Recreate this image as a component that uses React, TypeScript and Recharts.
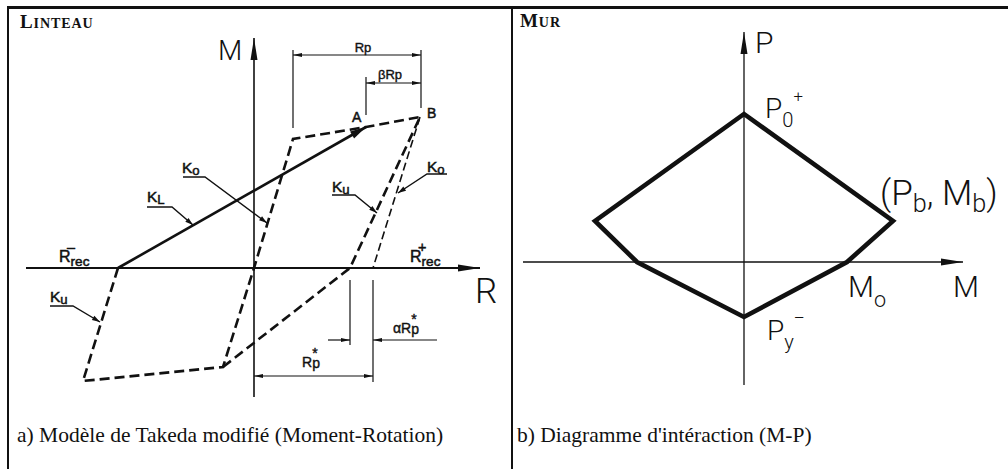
import React from "react";
import { ComposedChart, Line, Scatter, XAxis, YAxis } from "recharts";

type Pt = [number, number];

// ---- a) Takeda model: R (rotation) along x, M (moment) along y, origin at the axes crossing
const rAxisA: Pt[] = [[-228, 0], [226, 0]];
const mAxisA: Pt[] = [[0, -129], [0, 230]];
// K_L: from R_rec- up to point A
const kLineA: Pt[] = [[-136, 0], [112, 141]];
// hysteresis loop (dashed)
const loopMain: Pt[] = [[-136, 0], [-171, -113], [-31, -99], [0, 0], [39, 129], [112, 141], [166, 151]];
const loopUnload: Pt[] = [[-31, -99], [96, 0], [166, 151]];
const koBranch: Pt[] = [[166, 151], [119, 0]];

// dimension lines (Rp, βRp, αRp*, Rp*)
const dimLinesA: Pt[][] = [
  [[39, 218], [39, 140]],
  [[167, 218], [167, 160]],
  [[39, 213], [167, 213]],
  [[112, 191], [112, 153]],
  [[112, 185], [167, 185]],
  [[96, -12], [96, -77]],
  [[119, -12], [119, -114]],
  [[74, -72], [96, -72]],
  [[183, -72], [119, -72]],
  [[0, -108], [119, -108]],
];

// leaders under the stiffness labels
const leadersA: Pt[][] = [
  [[-71, 91], [-49, 91], [13, 45]],
  [[-107, 61], [-82, 61], [-61, 43]],
  [[78, 73], [101, 73], [123, 55]],
  [[193, 94], [173, 94], [144, 75]],
  [[-204, -38], [-181, -38], [-154, -54]],
];

// arrow heads: tip (x, y), direction taken from (fx, fy)
const arrowsA = [
  { x: 0, y: 230, fx: 0, fy: 200, k: "axis" },
  { x: 226, y: 0, fx: 200, fy: 0, k: "axis" },
  { x: 112, y: 141, fx: -136, fy: 0, k: "kl" },
  { x: 39, y: 213, fx: 167, fy: 213, k: "dim" },
  { x: 167, y: 213, fx: 39, fy: 213, k: "dim" },
  { x: 112, y: 185, fx: 167, fy: 185, k: "dim" },
  { x: 167, y: 185, fx: 112, fy: 185, k: "dim" },
  { x: 96, y: -72, fx: 74, fy: -72, k: "dim" },
  { x: 119, y: -72, fx: 183, fy: -72, k: "dim" },
  { x: 0, y: -108, fx: 119, fy: -108, k: "dim" },
  { x: 119, y: -108, fx: 0, fy: -108, k: "dim" },
  { x: 13, y: 45, fx: -49, fy: 91, k: "lead" },
  { x: -61, y: 43, fx: -82, fy: 61, k: "lead" },
  { x: 123, y: 55, fx: 101, fy: 73, k: "lead" },
  { x: 144, y: 75, fx: 173, fy: 94, k: "lead" },
  { x: -154, y: -54, fx: -181, fy: -38, k: "lead" },
];

const labelsA = [
  { x: -234, y: 240, kind: "title", parts: [["L", ""], ["inteau", "sc"]] },
  { x: -36, y: 208, kind: "cadS", parts: [["M", ""]] },
  { x: 221, y: -35, kind: "cadL", parts: [["R", ""]] },
  { x: 109, y: 216, kind: "dimS", anchor: "middle", parts: [["Rp", ""]] },
  { x: 124, y: 189, kind: "dimS", parts: [["βRp", ""]] },
  { x: 98, y: 146, kind: "pt", parts: [["A", ""]] },
  { x: 173, y: 150, kind: "pt", parts: [["B", ""]] },
  { x: -72, y: 95, kind: "lab", parts: [["K", ""], ["o", "sub"]] },
  { x: -107, y: 66, kind: "lab", parts: [["K", ""], ["L", "sub"]] },
  { x: 78, y: 76, kind: "lab", parts: [["K", ""], ["u", "sub"]] },
  { x: 173, y: 96, kind: "lab", parts: [["K", ""], ["o", "sub"]] },
  { x: -204, y: -34, kind: "lab", parts: [["K", ""], ["u", "sub"]] },
  { x: -195, y: 6, kind: "rec", parts: [["R", ""], ["rec", "sub"], ["–", "over"]] },
  { x: 156, y: 6, kind: "rec", parts: [["R", ""], ["rec", "sub"], ["+", "over"]] },
  { x: 139, y: -65, kind: "dimL", parts: [["αR", ""], ["p", "sub"], ["*", "over"]] },
  { x: 48, y: -99, kind: "dimL", parts: [["R", ""], ["p", "sub"], ["*", "over"]] },
  { x: -237, y: -174, kind: "cap", parts: [["a) Modèle de Takeda modifié (Moment-Rotation)", ""]] },
];

// ---- b) M-P interaction diagram, origin at the axes crossing
const mAxisB: Pt[] = [[-221, 0], [219, 0]];
const pAxisB: Pt[] = [[0, -123], [0, 230]];
// P0+ -> (Pb, Mb) -> M0 -> Py- -> -M0 -> -(Pb, Mb) -> P0+
const envelope: Pt[] = [[0, 148], [149, 41], [103, 0], [0, -55], [-107, 0], [-149, 41], [0, 148], [149, 41]];

const arrowsB = [
  { x: 0, y: 230, fx: 0, fy: 200, k: "axis" },
  { x: 219, y: 0, fx: 190, fy: 0, k: "axis" },
];

const labelsB = [
  { x: -224, y: 235, kind: "title", parts: [["M", ""], ["ur", "sc"]] },
  { x: 11, y: 209, kind: "cadM", parts: [["P", ""]] },
  { x: 21, y: 144, kind: "cadS", parts: [["P", ""], ["0", "sub"], ["+", "sup"]] },
  { x: 136, y: 57, kind: "cadL", parts: [["(P", ""], ["b", "sub"], [", M", ""], ["b", "sub"], [")", ""]] },
  { x: 104, y: -35, kind: "cadM", parts: [["M", ""], ["o", "sub"]] },
  { x: 209, y: -35, kind: "cadM", parts: [["M", ""]] },
  { x: 23, y: -78, kind: "cadS", parts: [["P", ""], ["y", "sub"], ["–", "sup"]] },
  { x: -227, y: -180, kind: "cap", parts: [["b) Diagramme d'intéraction (M-P)", ""]] },
];

const INK = "#111";
const CAD = "Roboto, 'DejaVu Sans', sans-serif";
const SANS = "'Liberation Sans', Arial, sans-serif";
const SERIF = "'Liberation Serif', 'Times New Roman', serif";

const KIND: Record<string, any> = {
  title: { family: SERIF, weight: 700, size: 19, spacing: 0.9 },
  cap: { family: SERIF, weight: 400, size: 21.5 },
  cadS: { family: CAD, weight: 300, size: 28, subScale: 0.72, subDy: 0.32, supScale: 0.6, supDy: -0.58 },
  cadM: { family: CAD, weight: 300, size: 30, subScale: 0.72, subDy: 0.34, supScale: 0.6, supDy: -0.58 },
  cadL: { family: CAD, weight: 300, size: 35, subScale: 0.72, subDy: 0.2, supScale: 0.6, supDy: -0.58 },
  lab: { family: SANS, weight: 400, size: 15.5, subScale: 0.85, subDy: 0.12, halo: 0.5 },
  rec: { family: SANS, weight: 400, size: 16, subScale: 0.85, subDy: 0.22, supScale: 0.9, supDy: -0.6, halo: 0.5 },
  dimS: { family: SANS, weight: 400, size: 13, halo: 0.4 },
  dimL: { family: SANS, weight: 400, size: 14, subScale: 1, subDy: 0.05, supScale: 1, supDy: -0.62, halo: 0.4 },
  pt: { family: SANS, weight: 400, size: 14, halo: 0.5 },
};

const ARROW: Record<string, { len: number; hw: number }> = {
  axis: { len: 22, hw: 3.5 },
  kl: { len: 16, hw: 4 },
  dim: { len: 9, hw: 2 },
  lead: { len: 8, hw: 2.5 },
};

const toRows = (pts: Pt[]) => pts.map(([x, y]) => ({ x, y }));

const ArrowHead = (p: any) => {
  const { cx, cy, payload } = p;
  if (cx == null || cy == null) return null;
  const spec = ARROW[payload.k];
  const ang = Math.atan2(payload.y - payload.fy, payload.x - payload.fx);
  const ux = Math.cos(ang);
  const uy = -Math.sin(ang);
  const bx = cx - ux * spec.len;
  const by = cy - uy * spec.len;
  const nx = -uy * spec.hw;
  const ny = ux * spec.hw;
  return <polygon points={`${cx},${cy} ${bx + nx},${by + ny} ${bx - nx},${by - ny}`} fill={INK} />;
};

const TextMark = (p: any) => {
  const { cx, cy, payload } = p;
  if (cx == null || cy == null) return null;
  const st = KIND[payload.kind];
  let shift = 0;
  let prevW = 0;
  const spans = payload.parts.map(([s, role]: [string, string], i: number) => {
    let size = st.size;
    let target = 0;
    let dx = 0;
    let txt = s;
    if (role === "sub") {
      size = st.size * st.subScale;
      target = st.size * st.subDy;
    } else if (role === "sup" || role === "over") {
      size = st.size * st.supScale;
      target = st.size * st.supDy;
      if (role === "over") dx = -prevW;
    } else if (role === "sc") {
      size = st.size * 0.74;
      txt = s.toUpperCase();
    }
    const dy = target - shift;
    shift = target;
    prevW = s.length * size * 0.55;
    return (
      <tspan key={i} dx={dx || undefined} dy={dy || undefined} fontSize={size}>
        {txt}
      </tspan>
    );
  });
  return (
    <text
      x={cx}
      y={cy}
      fill={INK}
      stroke={st.halo ? INK : undefined}
      strokeWidth={st.halo}
      fontFamily={st.family}
      fontWeight={st.weight}
      fontSize={st.size}
      letterSpacing={st.spacing}
      textAnchor={payload.anchor || "start"}
    >
      {spans}
    </text>
  );
};

const seg = (key: string, pts: Pt[], width: number, dash?: string) => (
  <Line
    key={key}
    data={toRows(pts)}
    dataKey="y"
    type="linear"
    stroke={INK}
    strokeWidth={width}
    strokeDasharray={dash}
    strokeLinejoin="miter"
    dot={false}
    activeDot={false}
    isAnimationActive={false}
  />
);

function Panel({
  width,
  height,
  xDomain,
  yDomain,
  children,
}: {
  width: number;
  height: number;
  xDomain: [number, number];
  yDomain: [number, number];
  children: React.ReactNode;
}) {
  return (
    <ComposedChart width={width} height={height} margin={{ top: 0, right: 0, bottom: 0, left: 0 }}>
      <XAxis type="number" dataKey="x" domain={xDomain} allowDataOverflow hide />
      <YAxis type="number" dataKey="y" domain={yDomain} allowDataOverflow hide />
      {children}
    </ComposedChart>
  );
}

export default function App() {
  return (
    <div style={{ position: "absolute", left: 0, top: 0, width: 1008, height: 469, background: "#fff", overflow: "hidden" }}>
      <div style={{ position: "absolute", left: 7, top: 6, width: 1001, height: 2.5, background: INK }} />
      <div style={{ position: "absolute", left: 7, top: 6, width: 2, height: 463, background: INK }} />
      <div style={{ position: "absolute", left: 511, top: 6, width: 2, height: 463, background: INK }} />

      <div style={{ position: "absolute", left: 8, top: 7 }}>
        <Panel width={504} height={462} xDomain={[-246, 258]} yDomain={[-201, 261]}>
          {seg("rAxis", rAxisA, 2)}
          {seg("mAxis", mAxisA, 1.6)}
          {dimLinesA.map((d, i) => seg(`dim${i}`, d, 1.2))}
          {leadersA.map((d, i) => seg(`lead${i}`, d, 1.4))}
          {seg("kl", kLineA, 2.6)}
          {seg("loopMain", loopMain, 2.6, "10 5")}
          {seg("loopUnload", loopUnload, 2.6, "10 5")}
          {seg("ko", koBranch, 1.6, "8 4")}
          <Scatter data={arrowsA} dataKey="y" shape={ArrowHead} isAnimationActive={false} />
          <Scatter data={labelsA} dataKey="y" shape={TextMark} isAnimationActive={false} />
        </Panel>
      </div>

      <div style={{ position: "absolute", left: 512, top: 7 }}>
        <Panel width={496} height={462} xDomain={[-232, 264]} yDomain={[-207, 255]}>
          {seg("mAxisB", mAxisB, 1.3)}
          {seg("pAxisB", pAxisB, 1.3)}
          {seg("envelope", envelope, 4.6)}
          <Scatter data={arrowsB} dataKey="y" shape={ArrowHead} isAnimationActive={false} />
          <Scatter data={labelsB} dataKey="y" shape={TextMark} isAnimationActive={false} />
        </Panel>
      </div>
    </div>
  );
}
